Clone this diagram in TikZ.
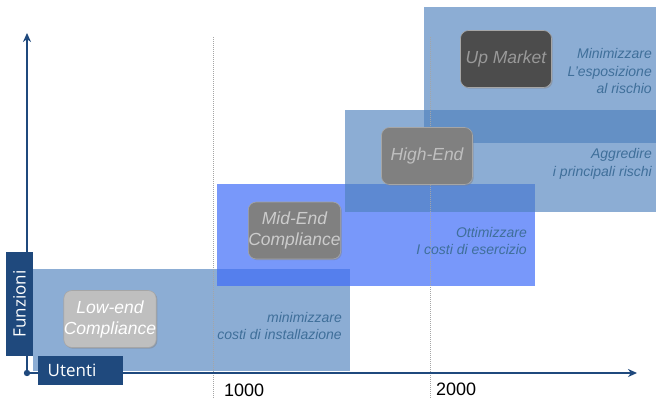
\documentclass[tikz,border=0pt]{standalone}
\usepackage{fontspec}
\setmainfont{Liberation Sans}
\newfontfamily\labfont{Open Sans}
\usetikzlibrary{arrows.meta,shadows}
\definecolor{axisblue}{RGB}{31,73,125}
\definecolor{bandblue}{RGB}{79,129,189}
\definecolor{brightblue}{RGB}{62,108,248}
\definecolor{sidetext}{RGB}{63,111,154}
\definecolor{dotgray}{RGB}{165,165,165}
\tikzset{
  band/.style={fill=bandblue,fill opacity=0.65,draw=none},
  midband/.style={fill=brightblue,fill opacity=0.7,draw=none},
  segbox/.style={rounded corners=8pt,draw=black!35,line width=0.6pt,
    minimum width=91pt,minimum height=57pt,inner sep=0pt,align=center,
    font=\fontsize{17.5}{21}\selectfont\itshape,
    drop shadow={shadow xshift=1.2pt,shadow yshift=-1.2pt,opacity=0.45}},
  sidelabel/.style={anchor=east,align=right,inner sep=0pt,text=sidetext,
    font=\fontsize{14}{17.5}\selectfont\itshape},
  axisline/.style={draw=axisblue,line width=2.2pt,-{Stealth[length=9pt,width=8pt]}},
  guide/.style={draw=dotgray,line width=0.6pt,dash pattern=on 1pt off 1pt},
  axlabel/.style={fill=axisblue,text=white,inner sep=0pt,
    font=\labfont\fontsize{17}{20}\selectfont},
  ticklabel/.style={anchor=base west,inner sep=0pt,text=black,
    font=\fontsize{18}{20}\selectfont}
}
\begin{document}
\begin{tikzpicture}[x=1pt,y=-1pt]
\useasboundingbox (0,0) rectangle (656,399);
% bands
\path[band] (33,269) rectangle (350,371);
\path[midband] (217,184) rectangle (535,286);
\path[band] (345,110) rectangle (656,212);
\path[band] (424,7) rectangle (656,143);
% guides
\coordinate (g1t) at (213,37); \coordinate (g1b) at (213,399);
\coordinate (g2t) at (430,37); \coordinate (g2b) at (430,399);
\draw[guide] (g1t) -- (g1b);
\draw[guide] (g2t) -- (g2b);
% axes
\coordinate (o) at (27,373);
\coordinate (ytip) at (27,33);
\coordinate (xtip) at (637,373);
\draw[axisline] (o) -- (ytip);
\draw[axisline] (o) -- (xtip);
\fill[axisblue] (o) circle (3.2pt);
% axis labels
\node[axlabel,minimum width=27pt,minimum height=104pt] (fun) at (19.5,304)
  {\rotatebox{90}{Funzioni}};
\node[axlabel,minimum width=85pt,minimum height=29pt,anchor=west,
  text width=78pt,align=left] (ute) at (38,370.5) {\hspace*{6pt}Utenti};
\node[ticklabel] (t1) at (224,396) {1000};
\node[ticklabel] (t2) at (436,395) {2000};
% segment boxes
\node[segbox,fill=black!25,text=white] (low) at (110,319) {Low-end\\Compliance};
\node[segbox,fill=black!50,text=black!20] (mid) at (294.5,230.5) {Mid-End\\Compliance};
\node[segbox,fill=black!50,text=black!25] (high) at (427,156) {High-End};
\node[segbox,fill=black!70,text=black!40] (up) at (506,59) {Up Market};
% side texts
\node[sidelabel] (s1) at (342,326) {minimizzare\\costi di installazione};
\node[sidelabel] (s2) at (527,241) {Ottimizzare\\I costi di esercizio};
\node[sidelabel] (s3) at (652,71) {Minimizzare\\L'esposizione\\al rischio};
\node[sidelabel] (s4) at (652,164) {Aggredire\\i principali rischi};
\end{tikzpicture}
\end{document}
